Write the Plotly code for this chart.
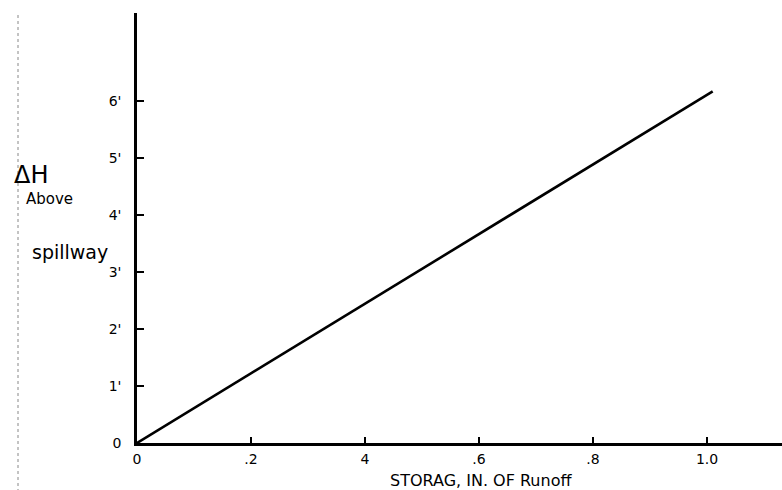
import plotly.graph_objects as go

storage = [0.0, 1.01]
head_ft = [0.0, 6.17]

x_tick_vals = [0, 0.2, 0.4, 0.6, 0.8, 1.0]
x_tick_text = ["0", ".2", "4", ".6", ".8", "1.0"]
y_tick_vals = [0, 1, 2, 3, 4, 5, 6]
y_tick_text = ["0", "1'", "2'", "3'", "4'", "5'", "6'"]

FONT = "DejaVu Sans"

fig = go.Figure()
fig.add_trace(go.Scatter(x=storage, y=head_ft, mode="lines",
                         line=dict(color="black", width=2.6),
                         showlegend=False, hoverinfo="skip"))

W, H = 782, 490
L, B, T, R = 137, 47, 13, 0

fig.update_layout(
    width=W, height=H,
    margin=dict(l=L, r=R, t=T, b=B, pad=0, autoexpand=False),
    paper_bgcolor="white", plot_bgcolor="white",
    font=dict(family=FONT, color="black", size=14),
    xaxis=dict(range=[0, (W - L - R) / 570], showgrid=False, zeroline=False,
               automargin=False,
               showline=True, linecolor="black", linewidth=2.5,
               ticks="inside", ticklen=6, tickwidth=1.5, tickcolor="black",
               tickvals=x_tick_vals, ticktext=x_tick_text,
               tickfont=dict(size=14), ticklabelstandoff=1),
    yaxis=dict(range=[0, (H - T - B) / 57], showgrid=False, zeroline=False,
               automargin=False,
               showline=True, linecolor="black", linewidth=2.5,
               ticks="inside", ticklen=7, tickwidth=1.5, tickcolor="black",
               tickvals=y_tick_vals, ticktext=y_tick_text,
               tickfont=dict(size=14), ticklabelstandoff=10),
)

pw, ph = W - L - R, H - T - B
def px(x):
    return (x - L) / pw
def py(y):
    return (H - B - y) / ph

def label(text, x, y, size):
    fig.add_annotation(text=text, xref="paper", yref="paper", x=px(x), y=py(y),
                       xanchor="center", yanchor="middle",
                       showarrow=False, font=dict(size=size))

label("STORAG, IN. OF Runoff", 481, 480, 16)
label("ΔH", 31, 175, 24)
label("Above", 50, 199, 15)
label("spillway", 70, 252, 19)

fig.add_shape(type="line", xref="paper", yref="paper", x0=px(18), x1=px(18),
              y0=py(15), y1=py(490), line=dict(color="#888", width=1, dash="dot"))

fig.write_html("out.html", config={"displayModeBar": False},
               post_script="document.body.style.margin='0';document.body.style.overflow='hidden';")
